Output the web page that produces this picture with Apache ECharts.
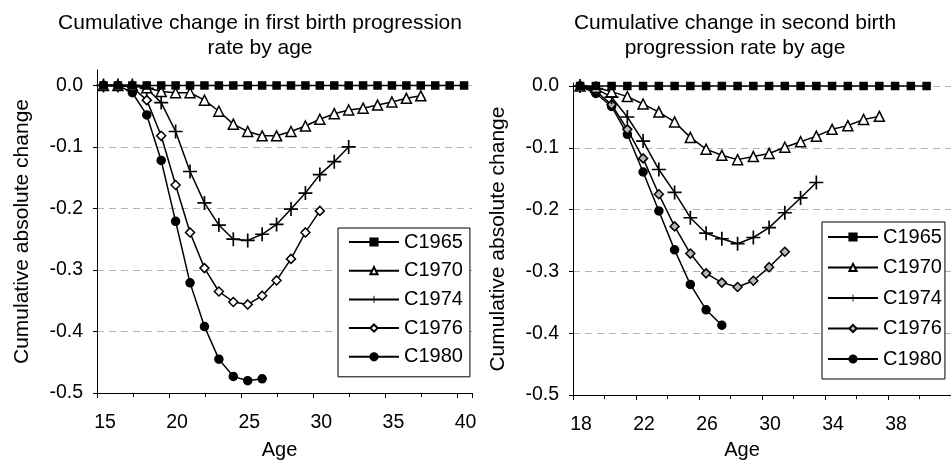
<!DOCTYPE html>
<html>
<head>
<meta charset="utf-8">
<script src="https://cdn.jsdelivr.net/npm/echarts@6/dist/echarts.min.js"></script>
<style>
  html, body { margin: 0; padding: 0; background: #fff; }
  #left { position: absolute; left: 0; top: 0; width: 480px; height: 465px; }
  #right { position: absolute; left: 480px; top: 0; width: 471px; height: 465px; }
</style>
</head>
<body>
<div id="left"></div>
<div id="right"></div>
<script>
var seriesNames = ['C1965', 'C1970', 'C1974', 'C1976', 'C1980'];

// first birth panel
var agesFirst = [15.45, 16.45, 17.45, 18.45, 19.45, 20.45, 21.45, 22.45, 23.45, 24.45, 25.45, 26.45, 27.45,
    28.45, 29.45, 30.45, 31.45, 32.45, 33.45, 34.45, 35.45, 36.45, 37.45, 38.45, 39.45, 40.45];
var first1965 = [0, 0, 0, 0, 0, 0, 0, 0, 0, 0, 0, 0, 0, 0, 0, 0, 0, 0, 0, 0, 0, 0, 0, 0, 0, 0];
var first1970 = [0, 0, 0, -0.004, -0.010, -0.012, -0.012, -0.024, -0.042, -0.063, -0.075, -0.082, -0.082,
    -0.075, -0.066, -0.055, -0.046, -0.040, -0.037, -0.032, -0.027, -0.021, -0.017];
var first1974 = [0, 0, 0, -0.005, -0.028, -0.075, -0.140, -0.191, -0.227, -0.250, -0.252, -0.242, -0.226,
    -0.201, -0.175, -0.145, -0.124, -0.100];
var first1976 = [0, 0, -0.003, -0.024, -0.082, -0.162, -0.239, -0.297, -0.335, -0.352, -0.356, -0.342,
    -0.317, -0.282, -0.239, -0.204];
var first1980 = [0, 0, -0.012, -0.048, -0.122, -0.221, -0.321, -0.392, -0.445, -0.473, -0.480, -0.477];

// second birth panel
var agesSecond = [18.45, 19.45, 20.45, 21.45, 22.45, 23.45, 24.45, 25.45, 26.45, 27.45, 28.45, 29.45,
    30.45, 31.45, 32.45, 33.45, 34.45, 35.45, 36.45, 37.45, 38.45, 39.45, 40.45];
var second1965 = [0, 0, 0, 0, 0, 0, 0, 0, 0, 0, 0, 0, 0, 0, 0, 0, 0, 0, 0, 0, 0, 0, 0];
var second1970 = [0, -0.002, -0.009, -0.017, -0.029, -0.042, -0.058, -0.083, -0.102, -0.112, -0.119,
    -0.114, -0.109, -0.099, -0.090, -0.081, -0.070, -0.064, -0.054, -0.049];
var second1974 = [0, -0.004, -0.018, -0.050, -0.089, -0.135, -0.172, -0.213, -0.238, -0.247, -0.255,
    -0.245, -0.229, -0.205, -0.181, -0.156];
var second1976 = [0, -0.008, -0.030, -0.070, -0.117, -0.175, -0.227, -0.271, -0.303, -0.318, -0.325,
    -0.315, -0.293, -0.268];
var second1980 = [0, -0.012, -0.033, -0.078, -0.139, -0.202, -0.265, -0.321, -0.362, -0.387];

var FONT = 'Liberation Sans';
var PLUS = 'path://M44,0h12v44h44v12h-44v44h-12v-44h-44v-12h44z';

function pairs(ages, vals) {
    var out = [];
    for (var i = 0; i < vals.length; i++) {
        out.push([ages[i], vals[i]]);
    }
    return out;
}

function makeSeries(ages, lists, diamondFill) {
    var marks = [
        {symbol: 'rect', size: 7, fill: '#000'},
        {symbol: 'triangle', size: 10, fill: '#fff'},
        {symbol: PLUS, size: 14, fill: '#000'},
        {symbol: 'diamond', size: 9, fill: diamondFill},
        {symbol: 'circle', size: 8, fill: '#000'}
    ];
    return lists.map(function (vals, i) {
        var m = marks[i];
        return {
            name: seriesNames[i],
            type: 'line',
            data: pairs(ages, vals),
            symbol: m.symbol,
            symbolSize: m.size,
            showAllSymbol: true,
            clip: false,
            z: 10 - i,
            lineStyle: {color: '#000', width: 1.5},
            itemStyle: {
                color: m.fill,
                borderColor: '#000',
                borderWidth: (m.symbol === PLUS) ? 0 : 1.5
            }
        };
    });
}

function makeOption(cfg) {
    return {
        animation: false,
        backgroundColor: '#fff',
        textStyle: {fontFamily: FONT, color: '#000'},
        title: {
            text: cfg.title,
            left: cfg.titleX,
            top: 6,
            textAlign: 'center',
            textStyle: {fontFamily: FONT, fontSize: 21, fontWeight: 'normal', color: '#000', lineHeight: 25}
        },
        legend: {
            data: seriesNames,
            orient: 'vertical',
            left: cfg.legendLeft,
            top: cfg.legendTop,
            padding: cfg.legendPadding,
            itemWidth: 50,
            itemHeight: 9,
            itemGap: cfg.legendGap,
            backgroundColor: '#fff',
            borderColor: '#000',
            borderWidth: 1,
            borderRadius: 0,
            textStyle: {fontFamily: FONT, fontSize: 20, color: '#000', lineHeight: 20}
        },
        grid: {left: cfg.gridLeft, right: cfg.gridRight, top: cfg.gridTop, bottom: cfg.gridBottom},
        xAxis: {
            type: 'value',
            min: cfg.xMin,
            max: cfg.xMax,
            interval: cfg.xInterval,
            name: 'Age',
            nameLocation: 'middle',
            nameGap: cfg.xNameGap,
            nameTextStyle: {fontFamily: FONT, fontSize: 20, color: '#000', padding: cfg.xNamePad},
            axisLine: {onZero: false, lineStyle: {color: '#000', width: 1}},
            axisTick: {length: 5, lineStyle: {color: '#000'}},
            minorTick: {show: true, splitNumber: 2, length: 4, lineStyle: {color: '#000'}},
            axisLabel: {
                fontFamily: FONT, fontSize: 19.5, color: '#000', margin: 20, showMaxLabel: false,
                padding: [0, 0, 0, 16]
            },
            splitLine: {show: false}
        },
        yAxis: {
            type: 'value',
            min: -0.5,
            max: cfg.yMax,
            interval: 0.1,
            name: 'Cumulative absolute change',
            nameLocation: 'middle',
            nameGap: 64,
            nameTextStyle: {fontFamily: FONT, fontSize: 21, color: '#000'},
            axisLine: {show: true, lineStyle: {color: '#000', width: 1}},
            axisTick: {show: true, length: 4, lineStyle: {color: '#000'}},
            axisLabel: {
                fontFamily: FONT, fontSize: 19.5, color: '#000', margin: 14, showMaxLabel: false,
                formatter: function (v) { return v.toFixed(1); }
            },
            splitLine: {
                show: true, showMaxLine: false,
                lineStyle: {color: '#b4b4b4', type: [7, 5], width: 1}
            }
        },
        series: cfg.series
    };
}

var leftChart = echarts.init(document.getElementById('left'));
leftChart.setOption(makeOption({
    title: 'Cumulative change in first birth progression\nrate by age',
    titleX: 255,
    gridLeft: 97, gridRight: 8, gridTop: 70, gridBottom: 69,
    xMin: 15, xMax: 41, xInterval: 5, xNameGap: 47, xNamePad: [0, 10, 0, 0],
    yMax: 0.025,
    legendLeft: 338, legendTop: 228, legendPadding: [4, 7, 10, 10], legendGap: 8.7,
    series: makeSeries(agesFirst, [first1965, first1970, first1974, first1976, first1980], '#fff')
}));

var rightChart = echarts.init(document.getElementById('right'));
rightChart.setOption(makeOption({
    title: 'Cumulative change in second birth\nprogression rate by age',
    titleX: 250,
    gridLeft: 82, gridRight: -12, gridTop: 83, gridBottom: 65,
    xMin: 18, xMax: 42, xInterval: 4, xNameGap: 38, xNamePad: [0, 40, 0, 0],
    yMax: 0.005,
    legendLeft: 342, legendTop: 222, legendPadding: [5, 3, 10, 5], legendGap: 10.5,
    series: makeSeries(agesSecond, [second1965, second1970, second1974, second1976, second1980], '#b8b8b8')
}));
</script>
</body>
</html>
